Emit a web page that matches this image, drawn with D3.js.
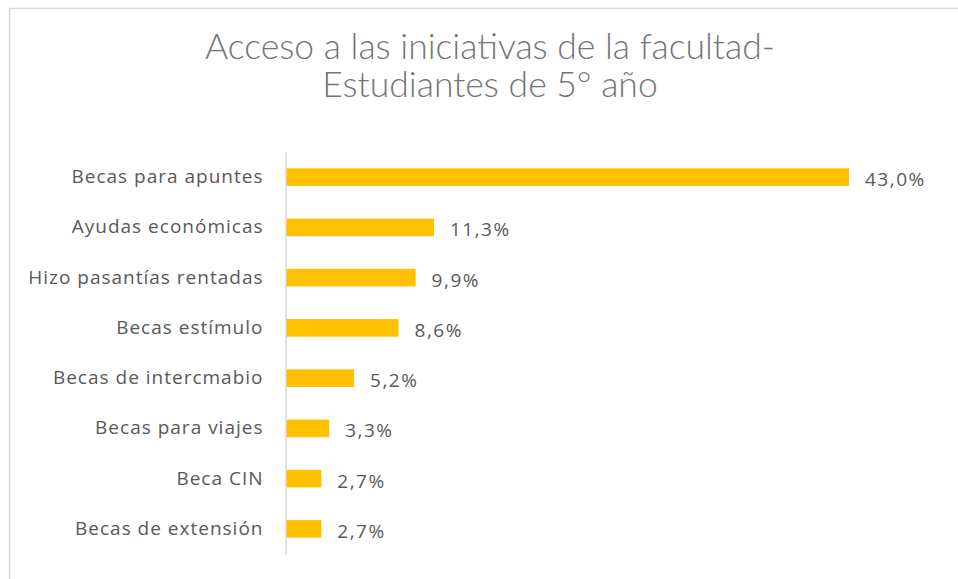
<!DOCTYPE html>
<html>
<head>
<meta charset="utf-8">
<script src="https://cdn.jsdelivr.net/npm/d3@7"></script>
<style>
  body { margin: 0; background: #fff; }
  text { font-family: "Open Sans", Lato, sans-serif; }
</style>
</head>
<body>
<svg width="958" height="579"></svg>
<script>
// chart data
const categories = ['Becas para apuntes', 'Ayudas económicas', 'Hizo pasantías rentadas', 'Becas estímulo',
  'Becas de intercmabio', 'Becas para viajes', 'Beca CIN', 'Becas de extensión'];
const values = [43.0, 11.3, 9.9, 8.6, 5.2, 3.3, 2.7, 2.7];
const titleLines = ['Acceso a las iniciativas de la facultad-', 'Estudiantes de 5° año'];

const svg = d3.select('svg');

// chart frame (cut off on right and bottom)
svg.append('path')
  .attr('d', 'M9.5,579 L9.5,8.5 L958,8.5')
  .attr('fill', 'none')
  .attr('stroke', '#d9d9d9')
  .attr('stroke-width', 1.5);

svg.append('g').selectAll('text').data(titleLines).enter().append('text')
  .attr('x', 490)
  .attr('y', (d, i) => 59 + i * 38)
  .attr('text-anchor', 'middle')
  .attr('fill', '#757575')
  .style('font-family', 'Lato, sans-serif')
  .style('font-size', '35.5px')
  .style('font-weight', 300)
  .text(d => d);

var x = d3.scaleLinear().domain([0, 43]).range([286, 849]);
var y = d3.scaleBand().domain(categories).range([152, 554]).paddingInner(0.65).paddingOuter(0.325);

svg.append('g').selectAll('rect').data(values).enter().append('rect')
  .attr('x', x(0))
  .attr('y', (d, i) => y(categories[i]))
  .attr('width', d => x(d) - x(0))
  .attr('height', y.bandwidth())
  .attr('fill', '#ffc000');

// value labels
svg.append('g').selectAll('text').data(values).enter().append('text')
  .attr('x', d => x(d) + 16)
  .attr('y', (d, i) => y(categories[i]) + y.bandwidth() / 2 + 4)
  .attr('dominant-baseline', 'middle')
  .attr('fill', '#595959')
  .style('font-size', '19px')
  .style('letter-spacing', '1.5px')
  .text(d => d.toFixed(1).replace('.', ',') + '%');

// category axis
svg.append('g')
  .attr('transform', 'translate(285.5,0)')
  .call(d3.axisLeft(y).tickSize(0).tickPadding(22))
  .call(g => g.select('.domain').attr('stroke', '#d9d9d9').attr('stroke-width', 1.5))
  .call(g => g.selectAll('text').attr('fill', '#595959').style('font-size', '19px')
    .style('letter-spacing', '1px').style('font-family', '"Open Sans", sans-serif'));
</script>
</body>
</html>
